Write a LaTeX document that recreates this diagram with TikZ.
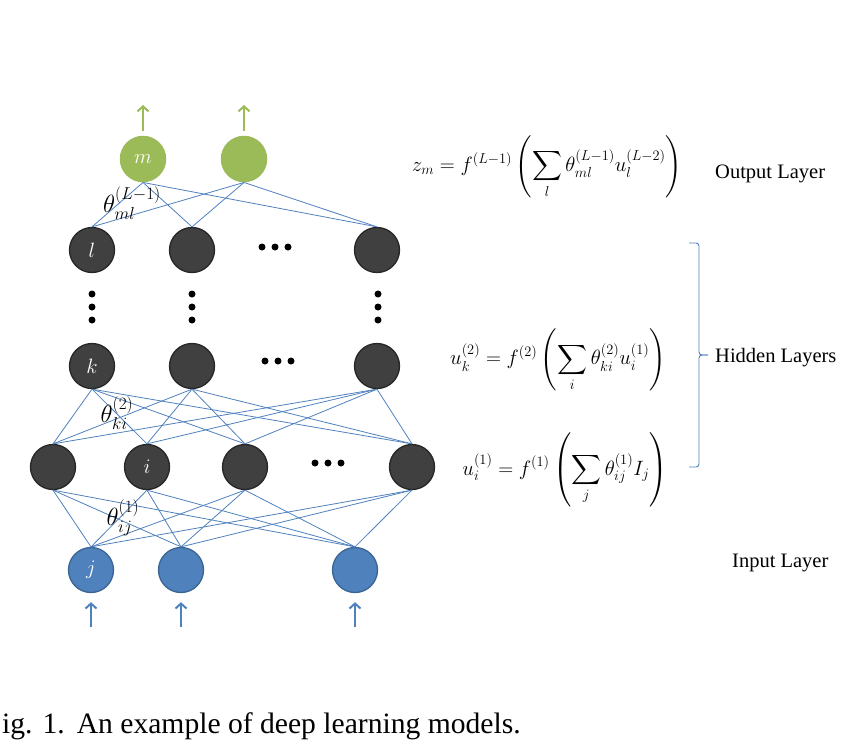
\documentclass[tikz,border=0pt]{standalone}
\usepackage{amsmath}
\usepackage{exscale}
\usepackage{fontspec}
\setmainfont{Liberation Serif}
\usetikzlibrary{arrows.meta}
\definecolor{dkfill}{HTML}{404040}
\definecolor{dkline}{HTML}{262626}
\definecolor{grn}{HTML}{9BBB59}
\definecolor{blu}{HTML}{4F81BD}
\definecolor{bluline}{HTML}{3A6494}
\begin{document}
\begin{tikzpicture}[x=1pt,y=-1pt,
  neuron/.style={circle, minimum size=45pt, inner sep=0pt, text=white, font=\fontsize{22}{22}\selectfont},
  hid/.style={neuron, fill=dkfill, draw=dkline, line width=1.3pt},
  outn/.style={neuron, fill=grn, minimum size=46.5pt},
  inn/.style={neuron, fill=blu, draw=bluline, line width=1.3pt},
  conn/.style={draw=blu, line width=0.8pt},
  garrow/.style={draw=grn, line width=2pt, -{Straight Barb[length=5pt,width=11pt]}},
  barrow/.style={draw=blu, line width=2pt, -{Straight Barb[length=5pt,width=11pt]}},
  dotn/.style={circle, fill=black, inner sep=0pt, minimum size=7pt},
  wlabel/.style={inner sep=0pt, font=\fontsize{23.5}{24}\selectfont},
  eqn/.style={inner sep=0pt, font=\fontsize{20}{20}\selectfont},
  txt/.style={inner sep=0pt, anchor=base west, font=\rmfamily\fontsize{20.5}{24}\selectfont},
  captxt/.style={inner sep=0pt, anchor=base west, font=\rmfamily\fontsize{29.6}{32}\selectfont}]
\useasboundingbox (0,0) rectangle (868,748);

% output layer
\node[outn] (m1) at (143,159) {$m$};
\node[outn] (m2) at (244,159) {};
% hidden top layer
\node[hid] (l1) at (92,250) {$l$};
\node[hid] (l2) at (192,250) {};
\node[hid] (l3) at (377,250) {};
% hidden k layer
\node[hid] (k1) at (92,366) {$k$};
\node[hid] (k2) at (192,366) {};
\node[hid] (k3) at (377,366) {};
% hidden i layer
\node[hid] (i1) at (53,467) {};
\node[hid] (i2) at (147,467) {$i$};
\node[hid] (i3) at (245,467) {};
\node[hid] (i4) at (412,467) {};
% input layer
\node[inn] (j1) at (91,570) {$j$};
\node[inn] (j2) at (181,570) {};
\node[inn] (j3) at (355,570) {};

% connections
\foreach \a in {m1,m2}{\foreach \b in {l1,l2,l3}{\draw[conn] (\a.south) -- (\b.north);}}
\foreach \a in {k1,k2,k3}{\foreach \b in {i1,i2,i3,i4}{\draw[conn] (\a.south) -- (\b.north);}}
\foreach \a in {i1,i2,i3,i4}{\foreach \b in {j1,j2,j3}{\draw[conn] (\a.south) -- (\b.north);}}

% arrows
\coordinate (om1) at (143,105);
\coordinate (om2) at (244,105);
\draw[garrow] ([yshift=5pt]m1.north) -- (om1);
\draw[garrow] ([yshift=5pt]m2.north) -- (om2);
\coordinate (ij1) at (91,627);
\coordinate (ij2) at (181,627);
\coordinate (ij3) at (355,627);
\draw[barrow] (ij1) -- ([yshift=-9pt]j1.south);
\draw[barrow] (ij2) -- ([yshift=-9pt]j2.south);
\draw[barrow] (ij3) -- ([yshift=-9pt]j3.south);

% horizontal dots
\node[dotn] (hl1) at (262,247) {};
\node[dotn] (hl2) at (275,247) {};
\node[dotn] (hl3) at (288,247) {};
\node[dotn] (hk1) at (265,361) {};
\node[dotn] (hk2) at (278,361) {};
\node[dotn] (hk3) at (291,361) {};
\node[dotn] (hi1) at (315,463) {};
\node[dotn] (hi2) at (328,463) {};
\node[dotn] (hi3) at (341,463) {};
% vertical dots
\foreach \x/\n in {92/a,192/b,378/c}{
  \node[dotn] (v\n1) at (\x,294) {};
  \node[dotn] (v\n2) at (\x,307) {};
  \node[dotn] (v\n3) at (\x,320) {};
}

% weight labels
\node[wlabel] (wml) at (132,203) {$\theta^{(L-1)}_{ml}$};
\node[wlabel] (wki) at (117,413) {$\theta^{(2)}_{ki}$};
\node[wlabel] (wij) at (123,518) {$\theta^{(1)}_{ij}$};

% equations
\node[eqn] (eq1) at (547,167) {$\displaystyle z_m = f^{(L-1)}\left(\sum_{l}\theta^{(L-1)}_{ml}u^{(L-2)}_{l}\right)$};
\node[eqn] (eq2) at (558,360) {$\displaystyle u^{(2)}_{k} = f^{(2)}\left(\sum_{i}\theta^{(2)}_{ki}u^{(1)}_{i}\right)$};
\node[eqn] (eq3) at (565,470) {$\displaystyle u^{(1)}_{i} = f^{(1)}\left(\sum_{j}\theta^{(1)}_{ij}I_j\right)$};

% layer labels
\node[txt] (outl) at (715,178) {Output Layer};
\node[txt] (hidl) at (715,362) {Hidden Layers};
\node[txt] (inl) at (732,567) {Input Layer};

% brace
\coordinate (bt) at (689,243);
\coordinate (bb) at (689,467);
\coordinate (btip) at (708,355);
\draw[conn, line width=0.9pt, rounded corners=3pt] (bt) -- (699,243) -- (699,355) -- (btip);
\draw[conn, line width=0.9pt, rounded corners=3pt] (btip) -- (699,355) -- (699,467) -- (bb);

% caption
\node[captxt] (capt) at (2,733) {\frenchspacing ig.\hspace{10pt}1.\hspace{12pt}An example of deep learning models.};
\end{tikzpicture}
\end{document}
